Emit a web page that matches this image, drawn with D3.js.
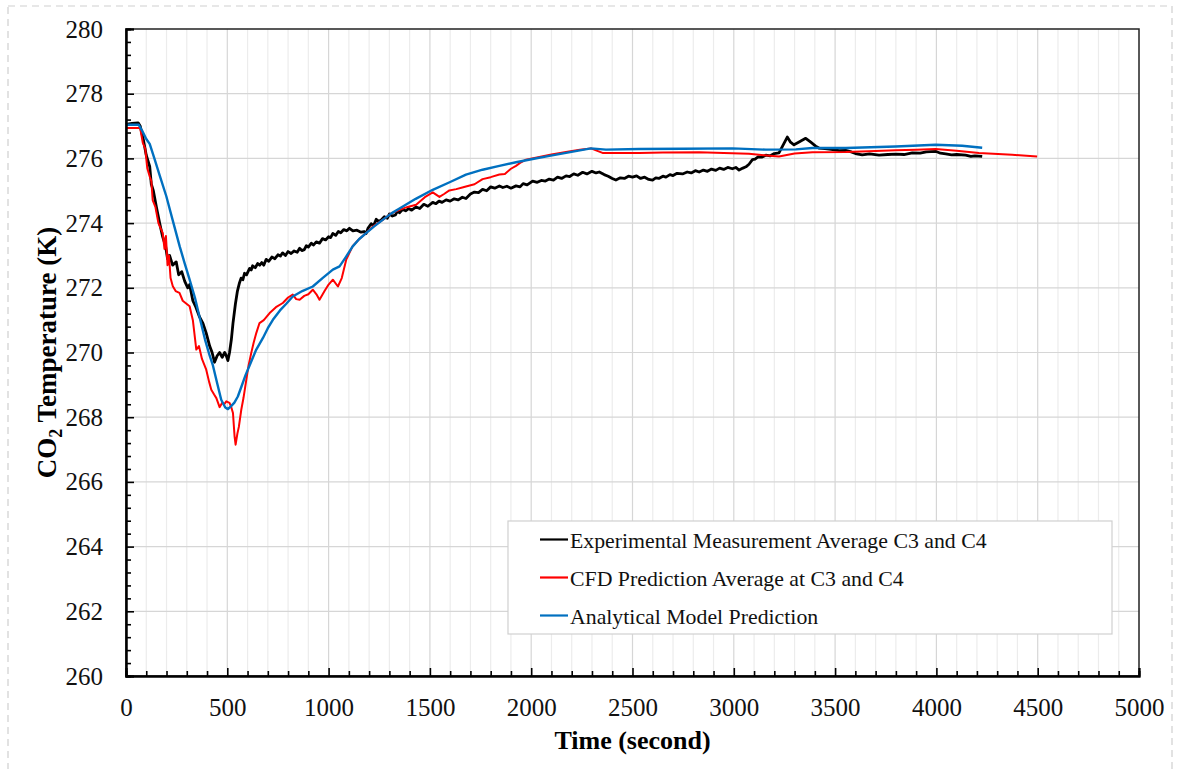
<!DOCTYPE html>
<html>
<head>
<meta charset="utf-8">
<script src="https://cdn.jsdelivr.net/npm/d3@7"></script>
<style>
  body { margin: 0; background: #fff; }
  svg { display: block; font-family: "Liberation Serif", "Times New Roman", serif; }
</style>
</head>
<body>
<div id="chart"></div>
<script>
// time (s), temperature (K)
const expData = [[0,277.05],[30,277.08],[60,277.1],[70,277.0],[85,276.6],[100,276.1],[117,275.75],[125,275.2],[135,275.0],[150,274.5],[166,274.0],[180,273.6],[195,273.3],[205,272.9],[215,273.0],[230,272.7],[248,272.8],[260,272.4],[275,272.5],[290,272.2],[305,272.0],[314,272.1],[330,271.6],[345,271.4],[363,271.1],[380,270.9],[396,270.6],[413,270.2],[425,270.0],[437,269.7],[450,269.9],[462,270.0],[475,269.85],[487,270.0],[495,269.9],[503,269.75],[511,270.0],[520,270.4],[528,270.9],[540,271.5],[550,271.9],[560,272.15],[568,272.3],[577,272.25],[585,272.45],[595,272.4],[610,272.6],[618,272.55],[625,272.68],[638,272.62],[650,272.75],[660,272.7],[670,272.78],[680,272.7],[692,272.88],[705,272.82],[720,272.95],[735,272.9],[750,273.02],[762,272.98],[773,273.08],[787,273.0],[800,273.12],[815,273.06],[830,273.14],[845,273.1],[857,273.22],[868,273.15],[880,273.18],[890,273.3],[900,273.26],[915,273.38],[925,273.32],[939,273.42],[955,273.38],[970,273.52],[985,273.48],[1000,273.58],[1010,273.55],[1021,273.68],[1035,273.62],[1048,273.74],[1060,273.7],[1075,273.8],[1090,273.76],[1103,273.84],[1120,273.76],[1140,273.78],[1160,273.72],[1175,273.74],[1185,273.68],[1195,273.85],[1210,273.98],[1222,273.92],[1235,274.12],[1248,274.05],[1260,274.1],[1275,274.2],[1290,274.15],[1300,274.28],[1315,274.22],[1330,274.25],[1340,274.38],[1350,274.32],[1365,274.42],[1380,274.38],[1395,274.45],[1410,274.4],[1432,274.5],[1450,274.45],[1470,274.58],[1490,274.52],[1514,274.64],[1530,274.6],[1545,274.68],[1560,274.64],[1580,274.72],[1600,274.68],[1620,274.75],[1640,274.72],[1660,274.8],[1678,274.76],[1700,274.9],[1720,274.96],[1740,274.94],[1760,275.04],[1780,275.0],[1800,275.12],[1820,275.08],[1843,275.15],[1860,275.1],[1880,275.14],[1900,275.08],[1925,275.15],[1945,275.12],[1960,275.22],[1980,275.18],[2007,275.3],[2030,275.26],[2050,275.32],[2070,275.3],[2089,275.36],[2110,275.33],[2130,275.42],[2150,275.38],[2172,275.46],[2190,275.44],[2210,275.52],[2230,275.48],[2254,275.57],[2275,275.52],[2300,275.6],[2320,275.55],[2336,275.58],[2360,275.5],[2380,275.45],[2400,275.38],[2418,275.33],[2440,275.4],[2460,275.38],[2480,275.45],[2500,275.42],[2520,275.46],[2540,275.38],[2560,275.42],[2580,275.35],[2599,275.33],[2615,275.4],[2630,275.38],[2650,275.45],[2665,275.42],[2685,275.5],[2700,275.47],[2720,275.54],[2747,275.52],[2770,275.58],[2790,275.55],[2810,275.62],[2829,275.58],[2850,275.64],[2870,275.6],[2890,275.67],[2911,275.63],[2930,275.7],[2950,275.66],[2970,275.72],[2993,275.68],[3010,275.72],[3026,275.64],[3045,275.7],[3060,275.74],[3075,275.82],[3092,275.96],[3105,275.98],[3120,276.05],[3140,276.04],[3158,276.1],[3180,276.08],[3200,276.15],[3223,276.17],[3240,276.37],[3264,276.66],[3280,276.5],[3297,276.42],[3320,276.5],[3335,276.55],[3355,276.62],[3380,276.5],[3404,276.38],[3420,276.32],[3450,276.3],[3480,276.28],[3520,276.24],[3552,276.25],[3580,276.2],[3600,276.15],[3634,276.11],[3670,276.14],[3717,276.1],[3760,276.12],[3800,276.13],[3840,276.12],[3881,276.17],[3920,276.16],[3950,276.2],[3996,276.22],[4020,276.16],[4046,276.14],[4075,276.11],[4100,276.12],[4144,276.1],[4170,276.06],[4190,276.08],[4226,276.06]];

const cfdData = [[0,276.94],[70,276.94],[83,276.48],[95,276.3],[105,275.7],[117,275.44],[125,275.3],[132,274.7],[145,274.5],[160,274.0],[181,273.7],[190,273.2],[197,273.6],[205,272.7],[212,273.0],[220,272.3],[231,272.05],[245,271.9],[264,271.84],[280,271.6],[300,271.5],[314,271.43],[330,271.0],[347,270.09],[360,270.2],[375,269.8],[396,269.47],[410,269.1],[421,268.85],[435,268.7],[446,268.59],[462,268.31],[475,268.45],[485,268.4],[495,268.49],[511,268.44],[520,268.3],[528,268.13],[536,267.4],[541,267.15],[550,267.5],[557,267.7],[569,268.23],[580,268.6],[594,269.16],[605,269.6],[618,269.98],[630,270.3],[643,270.6],[659,270.91],[680,271.0],[709,271.22],[740,271.4],[774,271.53],[800,271.7],[823,271.79],[840,271.65],[857,271.63],[880,271.75],[900,271.8],[922,271.94],[940,271.8],[955,271.63],[980,271.9],[1000,272.1],[1021,272.25],[1046,272.04],[1065,272.3],[1087,272.87],[1118,273.28],[1150,273.5],[1185,273.69],[1220,273.9],[1267,274.1],[1310,274.3],[1350,274.41],[1390,274.5],[1432,274.57],[1475,274.8],[1514,274.95],[1547,274.81],[1570,274.9],[1596,275.01],[1630,275.05],[1660,275.1],[1678,275.13],[1720,275.2],[1760,275.36],[1800,275.42],[1843,275.5],[1870,275.52],[1900,275.68],[1925,275.77],[1950,275.88],[1974,275.96],[2040,276.04],[2100,276.12],[2172,276.2],[2240,276.27],[2295,276.31],[2320,276.25],[2352,276.17],[2450,276.17],[2533,276.17],[2650,276.18],[2829,276.19],[2950,276.17],[3075,276.14],[3150,276.1],[3223,276.06],[3300,276.15],[3388,276.19],[3552,276.2],[3700,276.23],[3799,276.25],[3900,276.27],[3996,276.29],[4100,276.24],[4210,276.17],[4374,276.11],[4497,276.06]];

const modelData = [[0,277.04],[63,277.04],[80,276.85],[100,276.6],[117,276.45],[140,276.0],[165,275.5],[199,274.83],[230,274.1],[265,273.28],[290,272.75],[314,272.25],[340,271.7],[363,271.1],[390,270.4],[413,269.9],[429,269.6],[450,269.05],[470,268.54],[490,268.3],[503,268.25],[520,268.35],[535,268.45],[552,268.64],[570,268.95],[590,269.3],[610,269.6],[643,270.09],[676,270.45],[700,270.75],[725,271.01],[760,271.3],[790,271.5],[823,271.73],[870,271.9],[922,272.04],[970,272.3],[1021,272.56],[1054,272.66],[1085,272.95],[1119,273.28],[1150,273.5],[1185,273.69],[1225,273.9],[1267,274.1],[1310,274.3],[1350,274.45],[1430,274.75],[1514,275.03],[1600,275.27],[1678,275.5],[1760,275.65],[1843,275.77],[1925,275.88],[2007,275.98],[2090,276.08],[2172,276.17],[2240,276.25],[2295,276.31],[2369,276.27],[2533,276.29],[2750,276.3],[2993,276.31],[3158,276.27],[3306,276.28],[3388,276.32],[3552,276.32],[3799,276.37],[3996,276.42],[4127,276.39],[4226,276.33]];

const xTicks = [0, 500, 1000, 1500, 2000, 2500, 3000, 3500, 4000, 4500, 5000];
const yTicks = [260, 262, 264, 266, 268, 270, 272, 274, 276, 278, 280];

const seriesNames = ['Experimental Measurement Average C3 and C4', 'CFD Prediction Average at C3 and C4', 'Analytical Model Prediction'];
const seriesColors = ['#000000', '#ff0000', '#0070c0'];
const seriesWidths = [2.8, 2, 2.4];
const seriesData = [expData, cfdData, modelData];

const W = 1182, H = 769;
const margin = { top: 29, right: 43, bottom: 93, left: 126 };
const width = W - margin.left - margin.right;
const height = H - margin.top - margin.bottom;

const svg = d3.select('#chart').append('svg')
  .attr('width', W)
  .attr('height', H);

// dashed frame round the figure
svg.append('rect')
  .attr('x', 8).attr('y', 6)
  .attr('width', 1164).attr('height', 790)
  .attr('fill', 'none')
  .attr('stroke', '#cfcfcf')
  .attr('stroke-width', 1.2)
  .attr('stroke-dasharray', '7,5');

const g = svg.append('g')
  .attr('transform', `translate(${margin.left},${margin.top})`);

const x = d3.scaleLinear().domain([0, 5000]).range([0, width]);
const y = d3.scaleLinear().domain([260, 280]).range([height, 0]);

const minorX = d3.range(0, 5001, 100).filter(v => v % 500 !== 0);
const minorY = d3.range(260, 280.01, 0.4).map(v => +v.toFixed(1)).filter(v => Math.abs(v / 2 - Math.round(v / 2)) > 0.01);

// gridlines
g.append('g').selectAll('line')
  .data(minorX)
  .join('line')
  .attr('x1', d => x(d)).attr('x2', d => x(d))
  .attr('y1', 0).attr('y2', height)
  .attr('stroke', '#ececec').attr('stroke-width', 1.2);

g.append('g').selectAll('line')
  .data(xTicks.slice(1, -1))
  .join('line')
  .attr('x1', d => x(d)).attr('x2', d => x(d))
  .attr('y1', 0).attr('y2', height)
  .attr('stroke', '#d6d6d6').attr('stroke-width', 1.2);

g.append('g').selectAll('line')
  .data(yTicks.slice(1, -1))
  .join('line')
  .attr('x1', 0).attr('x2', width)
  .attr('y1', d => y(d)).attr('y2', d => y(d))
  .attr('stroke', '#d6d6d6').attr('stroke-width', 1.2);

// series
const line = d3.line()
  .x(d => x(d[0]))
  .y(d => y(d[1]));

seriesData.forEach((data, i) => {
  g.append('path')
    .datum(data)
    .attr('fill', 'none')
    .attr('stroke', seriesColors[i])
    .attr('stroke-width', seriesWidths[i])
    .attr('stroke-linejoin', 'round')
    .attr('d', line);
});

// frame
g.append('rect')
  .attr('width', width).attr('height', height)
  .attr('fill', 'none')
  .attr('stroke', '#222')
  .attr('stroke-width', 1.5);

// axes, ticks pointing inward
g.append('g')
  .attr('transform', `translate(0,${height})`)
  .call(d3.axisBottom(x).tickValues(xTicks).tickSize(-8).tickPadding(22).tickFormat(d3.format('d')));
g.append('g')
  .attr('transform', `translate(0,${height})`)
  .call(d3.axisBottom(x).tickValues(minorX).tickSize(-5).tickFormat(''));

g.append('g')
  .call(d3.axisLeft(y).tickValues(yTicks).tickSize(-8).tickPadding(23).tickFormat(d3.format('d')));
g.append('g')
  .call(d3.axisLeft(y).tickValues(minorY).tickSize(-5).tickFormat(''));

g.selectAll('.domain').attr('stroke', '#000').attr('stroke-width', 2);
g.selectAll('.tick line').attr('stroke', '#000').attr('stroke-width', 1.6);
g.selectAll('.tick text')
  .attr('font-family', '"Liberation Serif", serif')
  .attr('font-size', 25)
  .attr('fill', '#111');

// axis titles
svg.append('text')
  .attr('x', margin.left + width / 2)
  .attr('y', 749)
  .attr('text-anchor', 'middle')
  .attr('font-size', 26)
  .attr('font-weight', 'bold')
  .text('Time (second)');

const yTitle = svg.append('text')
  .attr('transform', `translate(56,${margin.top + height / 2}) rotate(-90)`)
  .attr('text-anchor', 'middle')
  .attr('font-size', 27)
  .attr('font-weight', 'bold');
yTitle.append('tspan').text('CO');
yTitle.append('tspan').attr('font-size', 18).attr('dy', 6).text('2');
yTitle.append('tspan').attr('dy', -6).text(' Temperature (K)');

// legend
const legend = svg.append('g')
  .attr('transform', 'translate(508,521)');

legend.append('rect')
  .attr('width', 604).attr('height', 113)
  .attr('fill', '#fff')
  .attr('stroke', '#d0d0d0')
  .attr('stroke-width', 1.2);

seriesNames.forEach((name, i) => {
  const row = legend.append('g')
    .attr('transform', `translate(0,${18.5 + i * 38})`);
  row.append('line')
    .attr('x1', 32).attr('x2', 60)
    .attr('stroke', seriesColors[i])
    .attr('stroke-width', 2.2);
  row.append('text')
    .attr('x', 62)
    .attr('y', 8)
    .attr('font-size', 21.8)
    .attr('fill', '#111')
    .text(name);
});
</script>
</body>
</html>
